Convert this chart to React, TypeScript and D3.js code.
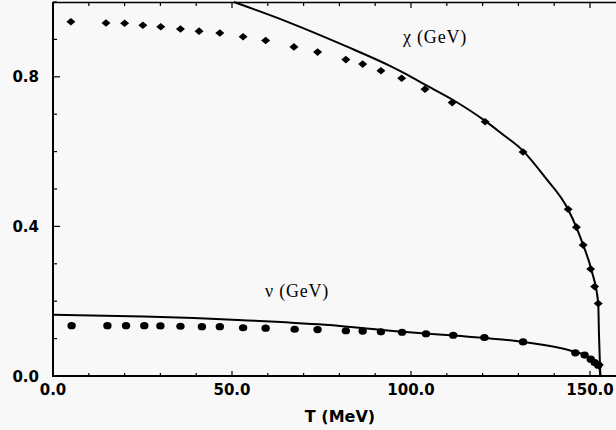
import React from "react";
import * as d3 from "d3";

// chi (GeV) data points (diamonds)
const chiT = [5, 14.8, 20, 25.1, 30.1, 35.6, 40.8, 46.6, 53.1, 59.4, 67.3, 73.9, 81.8, 86.5, 91.6, 97.4, 103.9, 111.5, 120.7, 131.3, 143.9, 146.2, 148.1, 150.2, 151.3, 152.3, 152.6];
const chiV = [0.947, 0.944, 0.943, 0.938, 0.934, 0.928, 0.922, 0.917, 0.907, 0.897, 0.88, 0.866, 0.846, 0.834, 0.816, 0.796, 0.767, 0.731, 0.68, 0.599, 0.446, 0.398, 0.35, 0.286, 0.239, 0.194, 0.03];

// chi curve
const chiLineT = [50.5, 65.5, 81.8, 94.4, 98.1, 104.7, 112.1, 120.7, 125.2, 131.3, 137.3, 143.8, 148.1, 150.5, 152.3, 152.5, 152.8, 152.9];
const chiLineV = [1.0, 0.947, 0.882, 0.828, 0.81, 0.775, 0.736, 0.682, 0.649, 0.602, 0.533, 0.447, 0.35, 0.28, 0.194, 0.114, 0.025, 0.0];

// nu (GeV) data points (circles)
const nuT = [5.2, 15.2, 20.4, 25.5, 30, 35.6, 41.6, 46.6, 53.1, 59.4, 67.5, 73.9, 81.8, 86.5, 91.6, 97.5, 104.2, 111.8, 120.5, 131.3, 145.9, 148.5, 150.2, 151.3, 152.3];
const nuV = [0.1345, 0.1345, 0.1345, 0.1345, 0.134, 0.133, 0.132, 0.132, 0.129, 0.128, 0.125, 0.124, 0.121, 0.12, 0.118, 0.117, 0.113, 0.109, 0.103, 0.091, 0.062, 0.056, 0.045, 0.036, 0.029];

// nu curve
const nuLineT = [0, 25.3, 51.5, 76, 97.7, 112, 131.3, 145.7, 149.5, 152.3, 152.7, 152.9];
const nuLineV = [0.164, 0.159, 0.15, 0.137, 0.118, 0.108, 0.091, 0.065, 0.052, 0.029, 0.016, 0.0];

const xTickLabels = [0, 50, 100, 150];
const yTickLabels = [0, 0.4, 0.8];

export default function App() {
  const W = 616, H = 430;
  const x = d3.scaleLinear().domain([0, 160]).range([53, 53 + 3.58 * 160]);
  const y = d3.scaleLinear().domain([0, 1]).range([376, 2]);

  const line = d3
    .line<[number, number]>()
    .x((d) => x(d[0]))
    .y((d) => y(d[1]))
    .curve(d3.curveMonotoneX);

  const chiLine = line(chiLineT.map((t, i) => [t, chiLineV[i]] as [number, number])) || "";
  const nuLine = line(nuLineT.map((t, i) => [t, nuLineV[i]] as [number, number])) || "";

  const xMinor = d3.range(0, 161, 10);
  const yMinor = d3.range(0, 1.001, 0.1);

  const tickFont = "'DejaVu Sans', sans-serif";
  const serif = "'Liberation Serif', 'DejaVu Serif', serif";

  return (
    <svg
      width={W}
      height={H}
      style={{ position: "absolute", left: 0, top: 0, background: "#f8f8f8" }}
    >
      <rect x={0} y={0} width={W} height={H} fill="#f8f8f8" />
      {/* frame */}
      <line x1={x(0)} y1={y(0)} x2={W} y2={y(0)} stroke="#000" strokeWidth={2} />
      <line x1={x(0)} y1={y(0) + 1} x2={x(0)} y2={y(1)} stroke="#000" strokeWidth={2} />
      <line x1={x(0)} y1={y(1) + 0.5} x2={W} y2={y(1) + 0.5} stroke="#000" strokeWidth={1.6} />

      {/* x ticks bottom & top */}
      {xMinor.map((t) => {
        const major = xTickLabels.includes(t);
        return (
          <g key={"xt" + t}>
            <line x1={x(t)} x2={x(t)} y1={y(0)} y2={y(0) - (major ? 5 : 3)} stroke="#000" strokeWidth={1.2} />
            <line x1={x(t)} x2={x(t)} y1={y(1)} y2={y(1) + (major ? 6 : 4)} stroke="#000" strokeWidth={1.2} />
          </g>
        );
      })}
      {/* y ticks */}
      {yMinor.map((v, i) => {
        const major = i % 4 === 0;
        return (
          <line key={"yt" + i} x1={x(0)} x2={x(0) + (major ? 7 : 4)} y1={y(v)} y2={y(v)} stroke="#000" strokeWidth={1.2} />
        );
      })}

      {/* tick labels */}
      {xTickLabels.map((t) => (
        <text key={"xl" + t} x={x(t)} y={395} textAnchor="middle" fontFamily={tickFont} fontWeight="bold" fontSize={15}>
          {t.toFixed(1)}
        </text>
      ))}
      {yTickLabels.map((v) => (
        <text key={"yl" + v} x={39} y={y(v) + 5.5} textAnchor="end" fontFamily={tickFont} fontWeight="bold" fontSize={15}>
          {v.toFixed(1)}
        </text>
      ))}
      <text x={340} y={422} textAnchor="middle" fontFamily={tickFont} fontWeight="bold" fontSize={16}>
        T (MeV)
      </text>

      {/* curves */}
      <path d={chiLine} fill="none" stroke="#000" strokeWidth={2} />
      <path d={nuLine} fill="none" stroke="#000" strokeWidth={2} />

      {/* chi diamonds */}
      {chiT.map((t, i) => {
        const cx = x(t), cy = y(chiV[i]);
        return (
          <path key={"c" + i} d={`M${cx - 4.5},${cy} L${cx},${cy - 3.8} L${cx + 4.5},${cy} L${cx},${cy + 3.8} Z`} fill="#000" />
        );
      })}
      {/* nu circles */}
      {nuT.map((t, i) => (
        <ellipse key={"n" + i} cx={x(t)} cy={y(nuV[i])} rx={4.2} ry={3.6} fill="#000" />
      ))}

      {/* labels */}
      <text x={435} y={43} textAnchor="middle" fontFamily={serif} fontSize={18} letterSpacing={0.8}>
        χ (GeV)
      </text>
      <text x={297} y={297} textAnchor="middle" fontFamily={serif} fontSize={18} letterSpacing={0.8}>
        ν (GeV)
      </text>
    </svg>
  );
}
